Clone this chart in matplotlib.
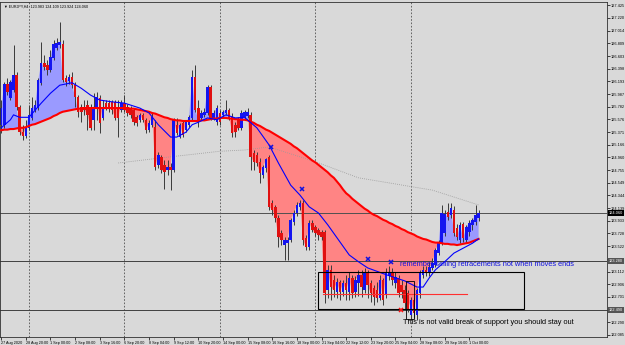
import numpy as np
import matplotlib
matplotlib.use("Agg")
import matplotlib.pyplot as plt
from matplotlib.patches import Rectangle
import matplotlib.transforms as mtransforms

plt.rcParams['font.family'] = ['Liberation Sans', 'DejaVu Sans']

title_text = "\u25BC EURJPY,H4  123.983 124.109 123.924 124.060"

open_ = [125.49,125.49,126.15,125.92,126.05,126.30,125.78,125.37,125.31,125.44,
         125.60,125.73,125.76,126.17,126.49,126.46,126.38,126.57,126.73,126.78,
         126.80,126.25,126.20,126.26,126.13,125.94,125.78,125.78,125.81,125.78,
         125.57,125.76,125.92,125.60,125.84,125.84,125.86,125.86,125.78,125.73,
         125.84,125.78,125.76,125.73,125.61,125.57,125.65,125.57,125.40,125.49,
         125.45,124.84,124.97,124.84,124.76,124.80,124.76,125.49,125.29,125.52,
         125.40,125.49,125.60,126.26,125.76,125.60,125.65,125.68,126.10,125.60,
         125.53,125.68,125.65,125.68,125.73,125.61,125.49,125.57,125.44,125.61,
         125.63,125.65,125.03,125.00,124.89,124.67,124.79,124.97,124.22,124.16,
         123.98,123.74,123.54,123.57,123.62,123.91,124.06,124.16,124.22,123.65,
         123.51,123.90,123.83,123.78,123.75,123.75,122.81,123.13,122.97,122.78,
         122.94,122.78,122.92,122.78,123.00,122.78,122.92,123.05,122.81,123.08,
         122.92,122.84,122.81,122.68,122.97,122.73,123.04,123.10,122.92,123.00,
         122.89,122.81,122.76,122.41,122.65,122.41,122.76,123.05,123.13,123.08,
         123.17,123.21,123.41,123.57,123.74,124.08,124.03,124.11,123.82,123.62,
         123.88,123.62,123.75,123.86,123.91,123.983]
high = [125.89,126.18,126.25,126.21,126.78,126.34,125.81,125.49,125.57,125.81,
        125.94,125.89,126.25,126.83,126.62,126.54,126.70,126.86,126.89,127.15,
        126.86,126.30,126.31,126.34,126.18,125.97,125.83,125.89,125.89,125.83,
        126.00,126.02,125.97,125.89,125.89,125.89,125.89,125.89,125.89,125.89,
        125.97,125.83,125.79,125.76,125.65,125.68,125.68,125.60,125.57,125.68,
        125.57,125.05,125.00,124.92,124.92,124.87,125.60,125.60,125.52,125.57,
        125.57,125.65,126.38,126.46,125.89,125.73,125.76,126.13,126.13,125.73,
        125.81,125.73,125.73,125.89,125.76,125.68,125.53,125.61,125.73,125.73,
        125.76,125.70,125.08,125.05,124.95,124.84,124.95,125.00,124.27,124.19,
        124.03,123.78,123.67,123.67,123.98,124.11,124.24,124.27,124.27,123.70,
        123.95,123.95,123.86,123.82,123.78,123.78,123.21,123.21,123.05,123.01,
        122.97,122.97,123.05,123.10,123.05,123.04,123.13,123.13,123.17,123.13,
        122.97,122.89,122.94,123.05,123.01,123.17,123.20,123.17,123.10,123.05,
        122.97,122.89,122.81,122.70,122.68,122.84,123.13,123.20,123.20,123.27,
        123.33,123.49,123.62,124.19,124.11,124.22,124.22,124.17,123.88,123.91,
        123.91,123.87,123.95,123.98,124.19,124.109]
low = [125.36,125.44,125.97,125.89,126.02,125.73,125.32,125.24,125.27,125.40,
       125.57,125.70,125.73,126.13,126.38,126.30,126.34,126.54,126.70,126.73,
       126.18,126.12,126.15,126.08,125.78,125.61,125.53,125.65,125.40,125.40,
       125.40,125.57,125.36,125.57,125.73,125.70,125.66,125.57,125.29,125.70,
       125.70,125.63,125.60,125.48,125.47,125.53,125.53,125.36,125.37,125.45,
       124.76,124.79,124.71,124.45,124.67,124.43,124.72,125.32,125.27,125.29,
       125.37,125.45,125.57,125.70,125.45,125.57,125.61,125.65,125.57,125.57,
       125.49,125.49,125.60,125.65,125.57,125.29,125.29,125.40,125.40,125.57,
       125.60,124.76,124.76,124.82,124.55,124.63,124.72,124.11,124.03,123.91,
       123.51,123.54,123.30,123.30,123.59,123.87,124.01,124.11,123.54,123.46,
       123.46,123.75,123.69,123.62,123.62,122.60,122.68,122.65,122.70,122.68,
       122.65,122.71,122.65,122.65,122.68,122.70,122.71,122.70,122.76,122.68,
       122.62,122.57,122.62,122.65,122.57,122.68,122.97,122.89,122.84,122.70,
       122.68,122.49,122.46,122.33,122.36,122.33,122.68,123.00,123.04,123.04,
       123.13,123.18,123.38,123.54,123.69,123.95,123.98,123.69,123.62,123.57,
       123.59,123.57,123.69,123.78,123.87,123.924]
close = [125.76,126.15,126.02,126.18,126.30,125.78,125.37,125.31,125.44,125.65,
         125.76,125.81,126.21,126.49,126.42,126.38,126.59,126.80,126.81,126.83,
         126.21,126.18,126.26,126.13,125.94,125.70,125.70,125.73,125.65,125.44,
         125.78,125.94,125.52,125.78,125.78,125.76,125.73,125.60,125.60,125.84,
         125.73,125.68,125.65,125.53,125.52,125.65,125.57,125.40,125.52,125.61,
         124.80,125.00,124.76,124.72,124.80,124.76,125.57,125.36,125.49,125.32,
         125.53,125.61,126.26,125.73,125.57,125.68,125.70,126.10,125.60,125.68,
         125.76,125.53,125.70,125.73,125.60,125.36,125.37,125.44,125.68,125.70,
         125.70,124.97,124.89,124.87,124.71,124.80,124.93,124.16,124.11,123.98,
         123.67,123.62,123.62,123.62,123.95,124.06,124.19,124.22,123.62,123.51,
         123.90,123.78,123.73,123.70,123.67,122.76,123.13,122.86,122.81,122.94,
         122.78,122.92,122.81,123.00,122.76,122.97,123.05,122.86,123.08,122.89,
         122.76,122.70,122.68,122.97,122.65,123.08,123.10,122.97,123.02,122.76,
         122.78,122.60,122.49,122.65,122.44,122.81,123.10,123.13,123.08,123.18,
         123.25,123.46,123.57,124.06,124.04,124.00,124.14,123.74,123.67,123.86,
         123.65,123.83,123.90,123.95,124.02,124.060]

ma_slow = [125.40,125.41,125.41,125.42,125.42,125.43,125.44,125.44,125.45,125.47,
           125.49,125.50,125.52,125.54,125.56,125.58,125.60,125.63,125.65,125.68,
           125.70,125.71,125.72,125.73,125.74,125.75,125.75,125.76,125.76,125.76,
           125.76,125.76,125.76,125.76,125.76,125.76,125.76,125.76,125.76,125.76,
           125.76,125.76,125.75,125.75,125.74,125.73,125.72,125.71,125.70,125.68,
           125.67,125.65,125.63,125.61,125.60,125.58,125.57,125.56,125.56,125.55,
           125.55,125.55,125.55,125.55,125.55,125.56,125.56,125.57,125.58,125.59,
           125.59,125.60,125.60,125.60,125.59,125.59,125.58,125.58,125.57,125.57,
           125.56,125.54,125.52,125.49,125.47,125.44,125.41,125.39,125.36,125.33,
           125.30,125.27,125.24,125.21,125.18,125.14,125.11,125.07,125.03,124.99,
           124.95,124.91,124.88,124.84,124.80,124.76,124.72,124.67,124.63,124.57,
           124.51,124.44,124.38,124.34,124.29,124.25,124.21,124.17,124.13,124.10,
           124.06,124.03,124.01,123.98,123.95,123.93,123.90,123.88,123.85,123.83,
           123.80,123.78,123.75,123.73,123.71,123.68,123.66,123.64,123.63,123.61,
           123.59,123.58,123.58,123.57,123.56,123.56,123.55,123.55,123.54,123.55,
           123.56,123.57,123.58,123.60,123.62,123.64]

fast_bars = [0,3,4,6,9,13,16,19,23,26,29,32,36,40,45,48,51,55,57,60,62,64,67,70,73,
             76,79,83,87,90,94,97,100,103,106,110,113,116,119,125,131,135,137,139,141,
             144,147,150,153,155]
ma_fast = [125.44,125.57,125.65,125.61,125.61,125.84,126.00,126.13,126.17,126.08,
           125.97,125.89,125.86,125.84,125.76,125.68,125.49,125.29,125.29,125.37,
           125.49,125.53,125.60,125.57,125.65,125.60,125.61,125.44,125.16,124.87,
           124.51,124.35,124.16,124.06,123.87,123.59,123.38,123.27,123.17,123.06,
           122.96,122.86,122.86,123.01,123.14,123.27,123.41,123.49,123.57,123.64]

long_bars = [38,55,71,79,87,102,116,140,155]
ma_long = [124.87,124.97,125.06,125.08,125.13,124.89,124.63,124.43,124.19]

x_tick_bars = [0,8,16,24,32,40,48,56,64,72,80,88,96,104,112,120,128,136,144,152]
x_tick_labels = ["27 Aug 2020","28 Aug 20:00","1 Sep 00:00","2 Sep 08:00","3 Sep 16:00",
                 "6 Sep 20:00","8 Sep 04:00","9 Sep 12:00","10 Sep 20:00","14 Sep 00:00",
                 "15 Sep 08:00","16 Sep 16:00","18 Sep 00:00","21 Sep 04:00","22 Sep 12:00",
                 "23 Sep 20:00","25 Sep 04:00","28 Sep 08:00","29 Sep 16:00","1 Oct 00:00"]
y_tick_labels = ["127.425","127.220","127.014","126.809","126.603","126.398","126.193",
                 "125.987","125.782","125.576","125.371","125.166","124.960","124.755",
                 "124.549","124.344","124.139","123.933","123.728","123.522","123.317",
                 "123.112","122.906","122.701","122.495","122.290","122.085"]
week_separators = [9,40,71,102,133]
bid_price = 124.060
hline_prices = [123.28, 122.49]
hline_labels = ["123.280", "122.490"]

box_bars = [102.9, 169.7]
box_prices = [122.50, 123.10]
small_box_bars = [131.4, 134.0]
small_box_prices = [122.34, 122.96]
red_seg_bars = [104.5, 151.2]
red_seg_price = 122.75
blue_x_bars = [87.6, 97.7, 119.1, 126.6]
blue_x_prices = [125.13, 124.45, 123.31, 123.27]
red_x_bar = [129.8]
red_x_price = [122.49]
note1 = "remember selling retracements not when moves ends"
note1_pos = (129.5, 123.22)
note2 = "This is not valid break of support you should stay out"
note2_pos = (130.5, 122.29)

BG = '#d9d9d9'
fig = plt.figure(figsize=(6.25, 3.45), dpi=100, facecolor=BG)
ax = fig.add_axes([0.0, 1 - 337/345, 607/625, 335/345])
ax.set_facecolor(BG)

o = np.array(open_); h = np.array(high); l = np.array(low); c = np.array(close)
ms = np.array(ma_slow)
x = np.arange(len(c))

ax.fill_between(x, c, ms, where=c >= ms, interpolate=True, color='#9a9aff', lw=0, zorder=1)
ax.fill_between(x, c, ms, where=c < ms, interpolate=True, color='#ff8484', lw=0, zorder=1)

for s in week_separators:
    ax.axvline(s, color='#505050', lw=0.6, ls=(0, (2, 2)), zorder=0.5)

ax.axhline(bid_price, color='#505050', lw=0.7, zorder=1.5)
for p in hline_prices:
    ax.axhline(p, color='#404040', lw=0.7, zorder=1.5)

ax.plot(long_bars, ma_long, color='#999999', lw=0.6, ls=(0, (1, 1.5)), zorder=1.6)

ax.vlines(x, l, h, color='#3a3a3a', lw=0.7, zorder=2)
up = c >= o
body = np.maximum(np.abs(c - o), 0.015)
ax.bar(x[up], body[up], bottom=o[up], width=0.8, color='#1414f0', lw=0, zorder=2.5)
ax.bar(x[~up], body[~up], bottom=c[~up], width=0.8, color='#e01010', lw=0, zorder=2.5)

ax.plot(x, ms, color='#ff0000', lw=1.5, zorder=3)
ax.plot(fast_bars, ma_fast, color='#0000ff', lw=0.8, zorder=3.2)

ax.add_patch(Rectangle((box_bars[0], box_prices[0]), box_bars[1] - box_bars[0],
                       box_prices[1] - box_prices[0], fill=False, ec='black', lw=0.8, zorder=4))
ax.add_patch(Rectangle((small_box_bars[0], small_box_prices[0]), small_box_bars[1] - small_box_bars[0],
                       small_box_prices[1] - small_box_prices[0], fill=False, ec='black', lw=0.6, zorder=4))
ax.plot(red_seg_bars, [red_seg_price, red_seg_price], color='#ff3030', lw=0.8, zorder=3.5)
ax.plot(blue_x_bars, blue_x_prices, ls='none', marker='x', ms=3.5, mew=1.1, color='#1010e0', zorder=5)
ax.plot(red_x_bar, red_x_price, ls='none', marker='x', ms=3.5, mew=1.1, color='#ff1010', zorder=5)

ax.text(note1_pos[0], note1_pos[1], note1, color='#1010e0', fontsize=5.3, ha='left', va='center', zorder=6)
ax.text(note2_pos[0], note2_pos[1], note2, color='black', fontsize=5.3, ha='left', va='center', zorder=6)

ax.set_xlim(-0.39, 196.69)
ax.set_ylim(122.051, 127.478)

ax.set_xticks(x_tick_bars)
ax.set_xticklabels(x_tick_labels, ha='left')
ax.tick_params(axis='x', direction='out', length=2, width=0.5, pad=0.6, labelsize=2.7, colors='black')
ax.yaxis.tick_right()
y_vals = [float(v) for v in y_tick_labels]
shown = [lab if min(abs(float(lab) - p) for p in hline_prices) > 0.08 else "" for lab in y_tick_labels]
ax.set_yticks(y_vals)
ax.set_yticklabels(shown)
ax.tick_params(axis='y', direction='out', length=2, width=0.5, pad=0.8, labelsize=2.8, colors='black')
for sp in ax.spines.values():
    sp.set_color('#303030')
    sp.set_linewidth(0.6)

trans = mtransforms.blended_transform_factory(ax.transAxes, ax.transData)
ax.text(1.003, bid_price, "124.060", transform=trans, fontsize=2.8, color='white', ha='left', va='center',
        bbox=dict(boxstyle='square,pad=0.25', fc='black', ec='none'), zorder=7, clip_on=False)
for p, lab in zip(hline_prices, hline_labels):
    ax.text(1.003, p, lab, transform=trans, fontsize=2.8, color='white', ha='left', va='center',
            bbox=dict(boxstyle='square,pad=0.25', fc='#555555', ec='none'), zorder=7, clip_on=False)

ax.text(0.006, 0.992, title_text, transform=ax.transAxes, fontsize=2.7, color='black',
        ha='left', va='top', zorder=7)

fig.savefig('out.png', dpi=100, facecolor=BG)
